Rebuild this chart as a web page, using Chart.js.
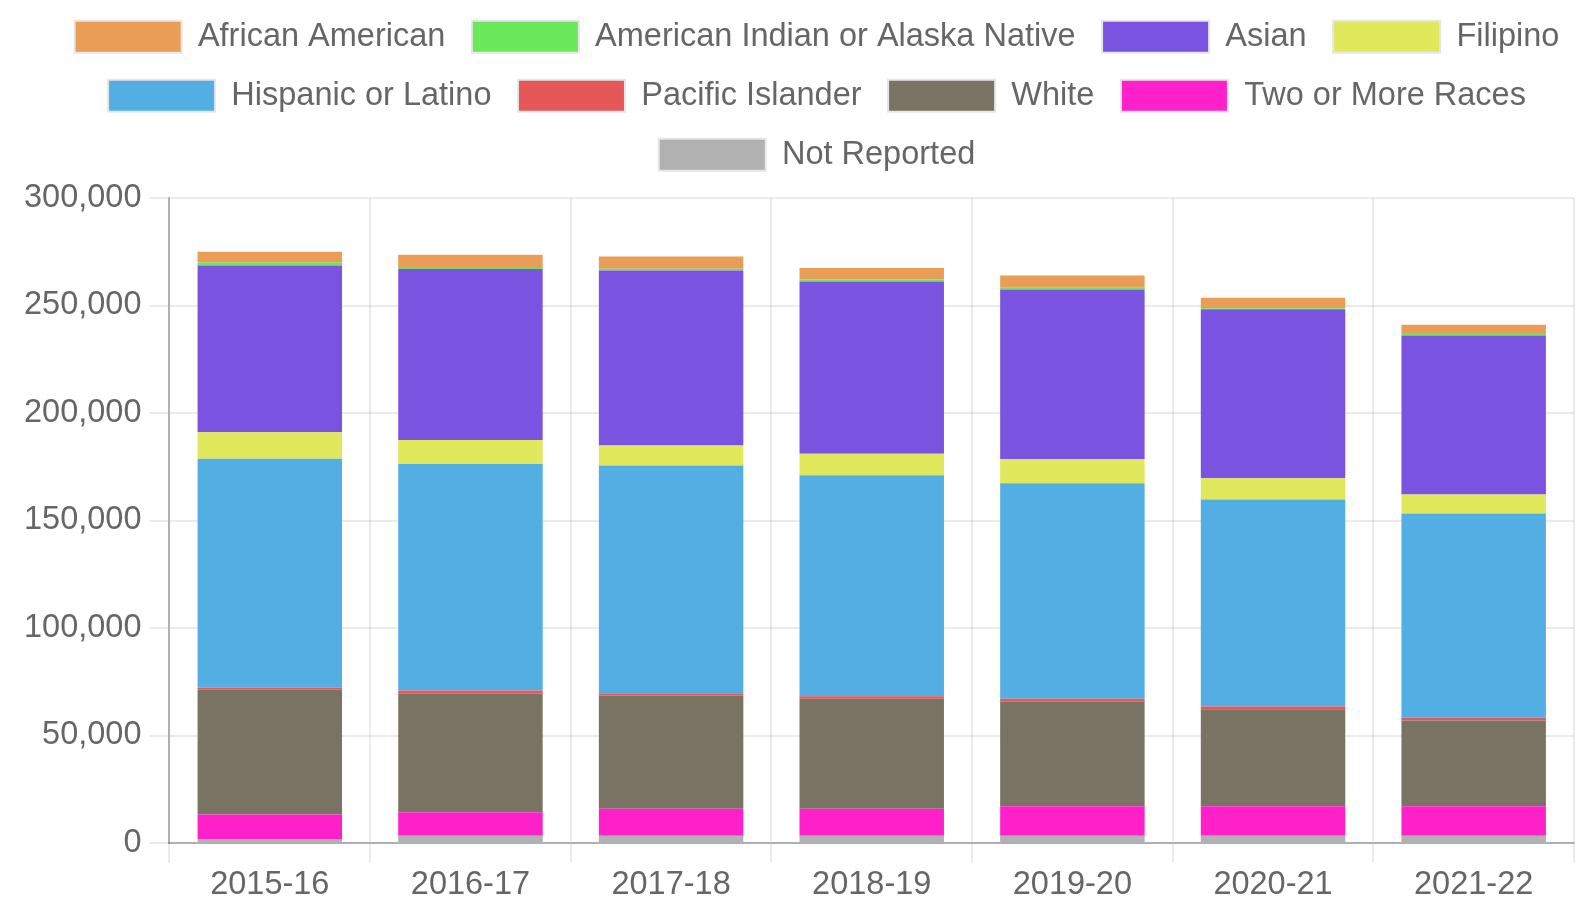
<!DOCTYPE html>
<html>
<head>
<meta charset="utf-8">
<script src="https://cdn.jsdelivr.net/npm/chart.js@4"></script>
<style>
  body { margin: 0; background: #fff; }
  #wrap { width: 1577px; height: 908px; }
</style>
</head>
<body>
<div id="wrap"><canvas id="myChart"></canvas></div>
<script>
// categorias (años escolares)
const years = ["2015-16", "2016-17", "2017-18", "2018-19", "2019-20", "2020-21", "2021-22"];

// valores por grupo
const africanAmerican = [5100, 6200, 5600, 5400, 5450, 4850, 3850];
const americanIndian = [1400, 500, 900, 950, 1050, 400, 1250];
const asian = [77500, 79500, 81400, 80150, 78900, 78700, 73850];
const filipino = [12350, 11200, 9300, 9950, 11200, 9800, 8900];
const hispanic = [106500, 105350, 105900, 102800, 100300, 96350, 95050];
const pacificIslander = [950, 1500, 1050, 1200, 1250, 1250, 1250];
const white = [58000, 55050, 52700, 51150, 48700, 45100, 39850];
const twoOrMore = [11350, 11000, 12550, 12550, 13750, 13750, 13750];
const notReported = [1900, 3350, 3350, 3350, 3350, 3350, 3350];

const yTicksMax = 300000;
const yTicksStep = 50000;

const fuente = { family: "'Liberation Sans', Arial, Helvetica, sans-serif", size: 32.5 };

// orden de abajo hacia arriba en la pila; la leyenda se invierte
const datasets = [
  { label: "Not Reported", data: notReported, backgroundColor: "#b1b1b1" },
  { label: "Two or More Races", data: twoOrMore, backgroundColor: "#fe20c9" },
  { label: "White", data: white, backgroundColor: "#797363" },
  { label: "Pacific Islander", data: pacificIslander, backgroundColor: "#e65757" },
  { label: "Hispanic or Latino", data: hispanic, backgroundColor: "#52aee3" },
  { label: "Filipino", data: filipino, backgroundColor: "#e0e85c" },
  { label: "Asian", data: asian, backgroundColor: "#7a53e0" },
  { label: "American Indian or Alaska Native", data: americanIndian, backgroundColor: "#6ae85a" },
  { label: "African American", data: africanAmerican, backgroundColor: "#e99d57" },
];

// espacio extra debajo de la leyenda y leyenda un poco a la derecha
const margenLeyenda = {
  id: "margenLeyenda",
  beforeInit(chart) {
    const fitOriginal = chart.legend.fit;
    chart.legend.fit = function fit() {
      fitOriginal.bind(chart.legend)();
      this.height += 17;
    };
  },
  afterLayout(chart) {
    chart.legend.left += 22;
    chart.legend.right += 22;
  },
};

const ctx = document.getElementById("myChart").getContext("2d");

const myChart = new Chart(ctx, {
  type: "bar",
  data: { labels: years, datasets: datasets },
  plugins: [margenLeyenda],
  options: {
    responsive: true,
    maintainAspectRatio: false,
    animation: false,
    layout: { padding: { top: -6, left: 16, right: 3, bottom: 0 } },
    plugins: {
      tooltip: { enabled: false },
      legend: {
        position: "top",
        reverse: true,
        labels: {
          color: "#666",
          font: fuente,
          boxWidth: 107,
          boxHeight: 32,
          padding: 26.5,
          generateLabels: (chart) => {
            const items = Chart.defaults.plugins.legend.labels.generateLabels(chart);
            items.forEach((it) => {
              it.lineWidth = 2;
              it.strokeStyle = "#e6e6e6";
            });
            return items;
          },
        },
      },
    },
    scales: {
      x: {
        stacked: true,
        grid: { color: "rgba(0,0,0,0.08)", lineWidth: 2, tickLength: 20 },
        border: { color: "rgba(0,0,0,0.25)", width: 2 },
        ticks: { color: "#666", font: fuente, padding: 3 },
      },
      y: {
        stacked: true,
        min: 0,
        max: yTicksMax,
        grid: { color: "rgba(0,0,0,0.08)", lineWidth: 2, tickLength: 20 },
        border: { color: "rgba(0,0,0,0.25)", width: 2 },
        ticks: { color: "#666", font: fuente, stepSize: yTicksStep, padding: 8 },
      },
    },
  },
});
</script>
</body>
</html>
